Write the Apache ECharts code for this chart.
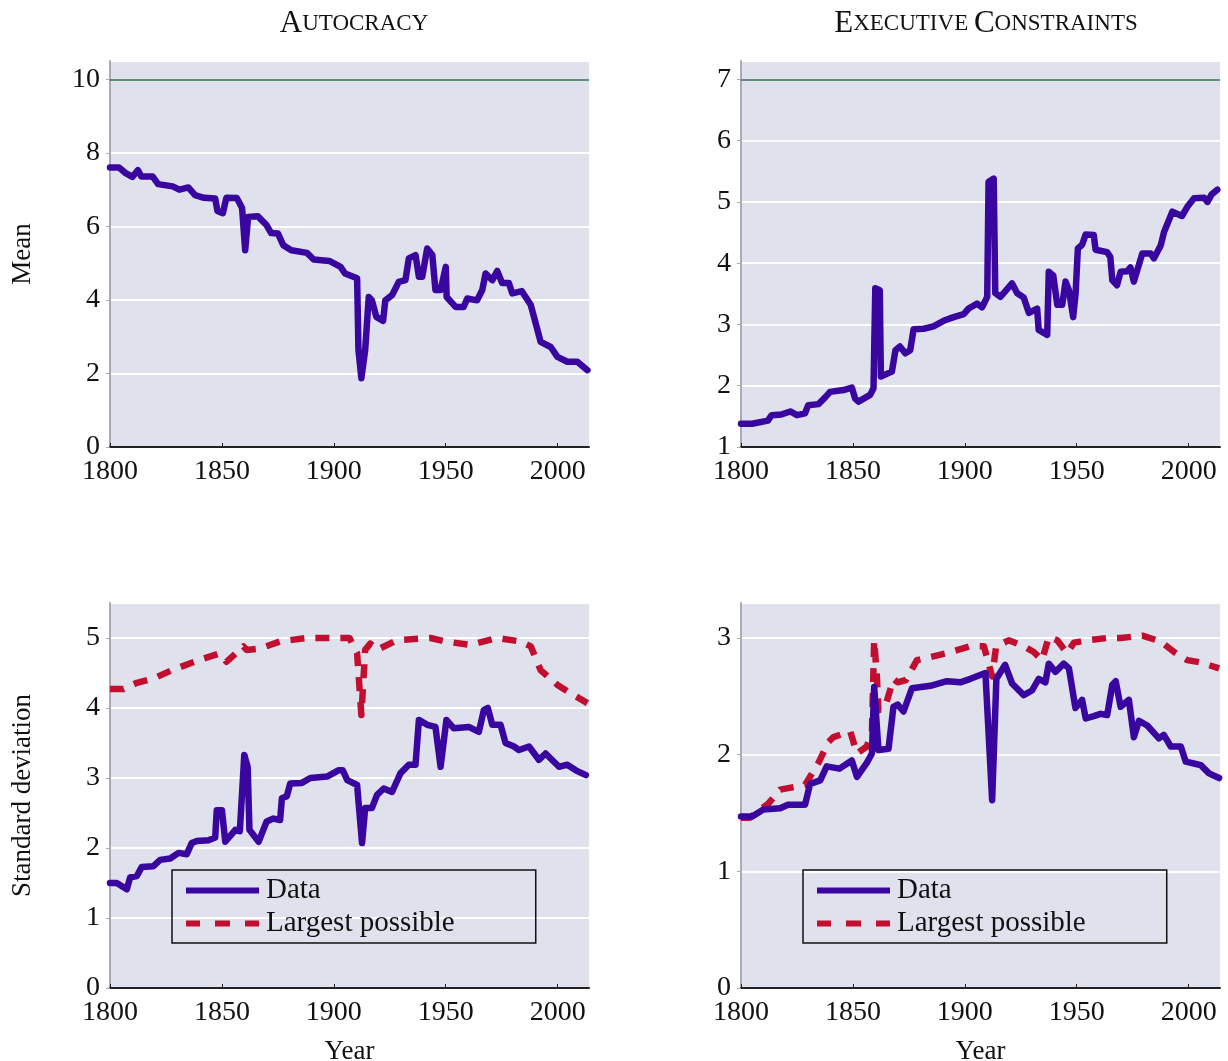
<!DOCTYPE html>
<html>
<head>
<meta charset="utf-8">
<script src="https://cdn.jsdelivr.net/npm/echarts@6/dist/echarts.min.js"></script>
<style>
  html, body { margin: 0; padding: 0; background: #fff; }
  #chart { width: 1228px; height: 1061px; }
</style>
</head>
<body>
<div id="chart"></div>
<script>
// [year, value] pairs
var autoMean = [[1800,7.6],[1804,7.6],[1807,7.45],[1810,7.35],[1812.5,7.53],[1814,7.36],[1819,7.36],[1821.5,7.15],[1828,7.09],[1831,7.0],[1835,7.06],[1838,6.85],[1842,6.78],[1847,6.76],[1848,6.42],[1850.4,6.36],[1852,6.78],[1856.7,6.77],[1859,6.5],[1860.4,5.35],[1861.7,6.26],[1866,6.28],[1870,6.03],[1872,5.82],[1875,5.81],[1877.4,5.49],[1881,5.35],[1888,5.28],[1891,5.1],[1898,5.06],[1903,4.9],[1905,4.72],[1910.4,4.59],[1911,2.64],[1912.3,1.87],[1914,2.64],[1915.6,4.08],[1917,3.99],[1919,3.54],[1922,3.43],[1923,3.99],[1926,4.13],[1929,4.49],[1932,4.54],[1933.5,5.13],[1936.5,5.22],[1938,4.63],[1939.5,4.63],[1941.7,5.4],[1944,5.22],[1945.4,4.27],[1947.7,4.27],[1950,4.9],[1950.4,4.08],[1954.4,3.81],[1958,3.81],[1959.6,4.04],[1964,3.99],[1966.3,4.27],[1967.8,4.72],[1970.8,4.54],[1973,4.79],[1975.2,4.46],[1978.2,4.46],[1979.7,4.18],[1984,4.24],[1988,3.86],[1992.4,2.86],[1996.9,2.72],[1999.9,2.45],[2004.3,2.32],[2008.8,2.32],[2013.3,2.09]];

var execMean = [[1800,1.38],[1805,1.38],[1812,1.43],[1813.7,1.52],[1818,1.53],[1822,1.58],[1825,1.52],[1828.6,1.55],[1830,1.68],[1834.6,1.70],[1837.6,1.81],[1839.8,1.90],[1845.8,1.93],[1849.5,1.97],[1851,1.79],[1852.5,1.74],[1857.7,1.85],[1859.2,1.96],[1860,3.59],[1862,3.56],[1862.5,2.15],[1867.4,2.23],[1869,2.58],[1871,2.64],[1873.4,2.53],[1875.6,2.58],[1877.1,2.92],[1881.6,2.93],[1886,2.97],[1890.5,3.06],[1895,3.12],[1899.5,3.17],[1901.7,3.26],[1905.5,3.34],[1907.7,3.28],[1910,3.45],[1910.6,5.33],[1912.9,5.38],[1913.6,3.51],[1915.9,3.45],[1921.1,3.67],[1923.4,3.51],[1926.3,3.44],[1928.6,3.19],[1932.3,3.26],[1933,2.91],[1936.8,2.83],[1937.5,3.86],[1939.5,3.80],[1941.3,3.32],[1943.5,3.32],[1945,3.70],[1946.5,3.56],[1948.4,3.12],[1949.5,3.51],[1950.5,4.24],[1952.4,4.30],[1954,4.47],[1957.6,4.46],[1958.4,4.22],[1963.6,4.18],[1965,4.1],[1965.9,3.72],[1968,3.64],[1969.6,3.86],[1972.6,3.87],[1974,3.93],[1975.5,3.70],[1979.3,4.16],[1983,4.16],[1984.5,4.08],[1987.5,4.29],[1989,4.51],[1992.7,4.84],[1997,4.77],[1999.4,4.92],[2002.4,5.06],[2006.9,5.07],[2008.4,5.0],[2010.2,5.12],[2012.8,5.20]];

var autoSd = [[1800,1.5],[1803,1.5],[1807.5,1.41],[1809,1.58],[1812,1.6],[1814.2,1.73],[1819.4,1.74],[1822.4,1.83],[1826.9,1.85],[1830.6,1.93],[1834.3,1.91],[1836.5,2.07],[1838.8,2.1],[1844,2.11],[1847,2.15],[1847.7,2.54],[1850,2.54],[1851.5,2.09],[1856,2.26],[1858,2.24],[1860,3.33],[1861.5,3.16],[1862.3,2.26],[1866.4,2.09],[1870,2.38],[1873,2.42],[1876,2.4],[1876.8,2.71],[1879,2.74],[1880.5,2.92],[1885.7,2.93],[1889.5,3.0],[1897,3.02],[1902,3.11],[1904,3.11],[1906,2.97],[1910.4,2.9],[1912.6,2.07],[1914,2.57],[1917,2.57],[1919.3,2.76],[1922.3,2.85],[1926,2.8],[1929.8,3.07],[1933.5,3.19],[1936.5,3.19],[1938,3.83],[1941.7,3.76],[1945.4,3.73],[1947.7,3.16],[1950.3,3.83],[1953.6,3.71],[1960.3,3.73],[1964.8,3.66],[1967,3.97],[1968.8,4.0],[1970.8,3.76],[1974.5,3.76],[1976.7,3.5],[1980.5,3.45],[1982.7,3.4],[1987.2,3.45],[1991.6,3.26],[1994.6,3.35],[2000.6,3.16],[2004.3,3.19],[2008.1,3.11],[2012.6,3.04]];

var autoSdMax = [[1800,4.27],[1806,4.27],[1812,4.36],[1819.4,4.42],[1827.6,4.54],[1840.3,4.69],[1849,4.78],[1852,4.66],[1859.6,4.88],[1861,4.83],[1867,4.85],[1876,4.95],[1888,5.0],[1907,5.0],[1910.4,4.78],[1912.3,3.9],[1913.3,4.45],[1914,4.83],[1916.3,4.92],[1919.3,4.83],[1928.3,4.97],[1943.2,5.0],[1950,4.95],[1961,4.9],[1973,5.0],[1983.4,4.95],[1988,4.88],[1992.4,4.54],[1999.9,4.33],[2005.8,4.21],[2013.3,4.07]];

var execSd = [[1800,1.47],[1805,1.47],[1810,1.53],[1817.5,1.54],[1821,1.57],[1828.6,1.57],[1830.9,1.75],[1835.4,1.78],[1838.3,1.9],[1844,1.88],[1849.5,1.95],[1851.8,1.81],[1856.2,1.93],[1858.5,2.01],[1859.5,2.58],[1861.4,2.04],[1865.9,2.05],[1868.1,2.41],[1870,2.43],[1872.6,2.37],[1876.4,2.57],[1884.6,2.59],[1892,2.63],[1898,2.62],[1902.5,2.65],[1909.2,2.7],[1912.2,1.61],[1914.1,2.65],[1918,2.77],[1921.1,2.61],[1926.3,2.51],[1930,2.55],[1933,2.65],[1936,2.62],[1937.5,2.78],[1940.5,2.71],[1944.2,2.78],[1946.5,2.74],[1949.4,2.4],[1952.4,2.47],[1954,2.31],[1957.6,2.33],[1960.6,2.35],[1963.6,2.34],[1965.9,2.6],[1967.4,2.63],[1969.6,2.41],[1973.3,2.47],[1975.5,2.15],[1977.8,2.29],[1981.5,2.25],[1986.7,2.14],[1988.9,2.17],[1992,2.07],[1996.5,2.07],[1998.7,1.94],[2003.2,1.92],[2005.4,1.91],[2009.1,1.84],[2013.6,1.8]];

var execSdMax = [[1800,1.46],[1804,1.46],[1812.2,1.58],[1817.5,1.70],[1828.6,1.74],[1834.6,1.93],[1839.1,2.11],[1841.3,2.15],[1848.8,2.2],[1851.8,2.01],[1856.2,2.07],[1858.5,2.2],[1859.5,2.98],[1860.7,2.67],[1861.4,2.38],[1864.4,2.41],[1868.1,2.65],[1870,2.62],[1873.7,2.64],[1878.6,2.81],[1892,2.87],[1902.5,2.93],[1908.5,2.93],[1912.2,2.67],[1914,2.93],[1919.6,2.98],[1926.3,2.93],[1930.8,2.88],[1934.5,2.81],[1937.5,3.01],[1941.3,2.98],[1945.7,2.87],[1948.7,2.96],[1954.7,2.98],[1963.6,3.0],[1969.6,3.0],[1979.3,3.02],[1987.5,2.97],[1993.5,2.88],[1999.4,2.81],[2005.4,2.79],[2013.6,2.74]];

var seriesNames = ['Data', 'Largest possible'];

var FONT = '"Liberation Serif", "DejaVu Serif", serif';
var BG = '#dfe1ec';
var BLUE = '#3a06a0';
var RED = '#c20f30';

var chart = echarts.init(document.getElementById('chart'));

function xAxisFor(idx, withName) {
  return {
    type: 'value', gridIndex: idx, min: 1800, max: 2014, interval: 50,
    name: withName ? 'Year' : '', nameLocation: 'middle', nameGap: 50,
    nameTextStyle: { fontFamily: FONT, fontSize: 27, color: '#111' },
    axisLine: { show: true, onZero: false, lineStyle: { color: '#222', width: 2 } },
    axisTick: { show: true, inside: true, length: 4, lineStyle: { color: '#222' } },
    axisLabel: {
      showMaxLabel: false, margin: 11, fontFamily: FONT, fontSize: 28, color: '#111',
      formatter: function (v) { return String(v); }
    },
    splitLine: { show: false }
  };
}

function yAxisFor(idx, min, max, interval, name) {
  return {
    type: 'value', gridIndex: idx, min: min, max: max, interval: interval,
    name: name || '', nameLocation: 'middle', nameGap: 74,
    nameTextStyle: { fontFamily: FONT, fontSize: 27, color: '#111' },
    axisLine: { show: true, lineStyle: { color: '#a9aab6', width: 2 } },
    axisTick: { show: true, length: 4, lineStyle: { color: '#a9aab6' } },
    axisLabel: { showMaxLabel: false, margin: 10, fontFamily: FONT, fontSize: 28, color: '#111' },
    splitLine: { show: true, lineStyle: { color: '#ffffff', width: 2 } }
  };
}

function lineSeries(name, data, idx, color, dashed, limit) {
  var s = {
    name: name, type: 'line', xAxisIndex: idx, yAxisIndex: idx,
    data: data, symbol: 'none', showSymbol: false, animation: false,
    lineStyle: { color: color, width: 6.5, type: dashed ? [14, 11] : 'solid', join: 'round', cap: dashed ? 'butt' : 'round' },
    itemStyle: { color: color },
    z: dashed ? 3 : 4
  };
  if (limit != null) {
    s.markLine = {
      silent: true, symbol: 'none', label: { show: false },
      lineStyle: { color: '#2c6b50', width: 1.5, type: 'solid' },
      data: [{ yAxis: limit }]
    };
  }
  return s;
}

var richCaps = {
  a: { fontFamily: FONT, fontSize: 31, fontWeight: 'normal', color: '#111' },
  b: { fontFamily: FONT, fontSize: 23, fontWeight: 'normal', color: '#111' }
};

function legendFor(x) {
  return {
    data: [
      { name: seriesNames[0], icon: 'rect' },
      { name: seriesNames[1], icon: 'path://M0,0H14V6H0Z M29,0H44V6H29Z M59,0H73V6H59Z' }
    ],
    orient: 'vertical', left: x, top: 870,
    itemWidth: 73, itemHeight: 6, itemGap: 4, symbolKeepAspect: false,
    padding: [6, 81, 5, 14],
    borderColor: '#111', borderWidth: 1.5,
    itemStyle: { borderWidth: 0 },
    lineStyle: { width: 0 },
    textStyle: { fontFamily: FONT, fontSize: 29, color: '#111', padding: [0, 0, 0, 2] }
  };
}

function gridAt(left, top, height) {
  return {
    left: left, top: top, width: 479, height: height,
    outerBoundsMode: 'none', containLabel: false,
    show: true, backgroundColor: BG, borderWidth: 0
  };
}

chart.setOption({
  backgroundColor: '#fff',
  animation: false,
  title: [
    { text: '{a|A}{b|UTOCRACY}', left: 349, top: 3, textAlign: 'center', textStyle: { fontWeight: 'normal', rich: richCaps } },
    { text: '{a|E}{b|XECUTIVE }{a|C}{b|ONSTRAINTS}', left: 981, top: 3, textAlign: 'center', textStyle: { fontWeight: 'normal', rich: richCaps } }
  ],
  legend: [legendFor(172), legendFor(803)],
  grid: [
    gridAt(110, 61, 386),
    gridAt(741, 61, 386),
    gridAt(110, 603, 385),
    gridAt(741, 603, 385)
  ],
  xAxis: [xAxisFor(0, false), xAxisFor(1, false), xAxisFor(2, true), xAxisFor(3, true)],
  yAxis: [
    yAxisFor(0, 0, 10.5, 2, 'Mean'),
    yAxisFor(1, 1, 7.3, 1),
    yAxisFor(2, 0, 5.5, 1, 'Standard deviation'),
    yAxisFor(3, 0, 3.3, 1)
  ],
  series: [
    lineSeries('Data', autoMean, 0, BLUE, false, 10),
    lineSeries('Data', execMean, 1, BLUE, false, 7),
    lineSeries('Largest possible', autoSdMax, 2, RED, true),
    lineSeries('Data', autoSd, 2, BLUE, false),
    lineSeries('Largest possible', execSdMax, 3, RED, true),
    lineSeries('Data', execSd, 3, BLUE, false)
  ]
});
</script>
</body>
</html>
